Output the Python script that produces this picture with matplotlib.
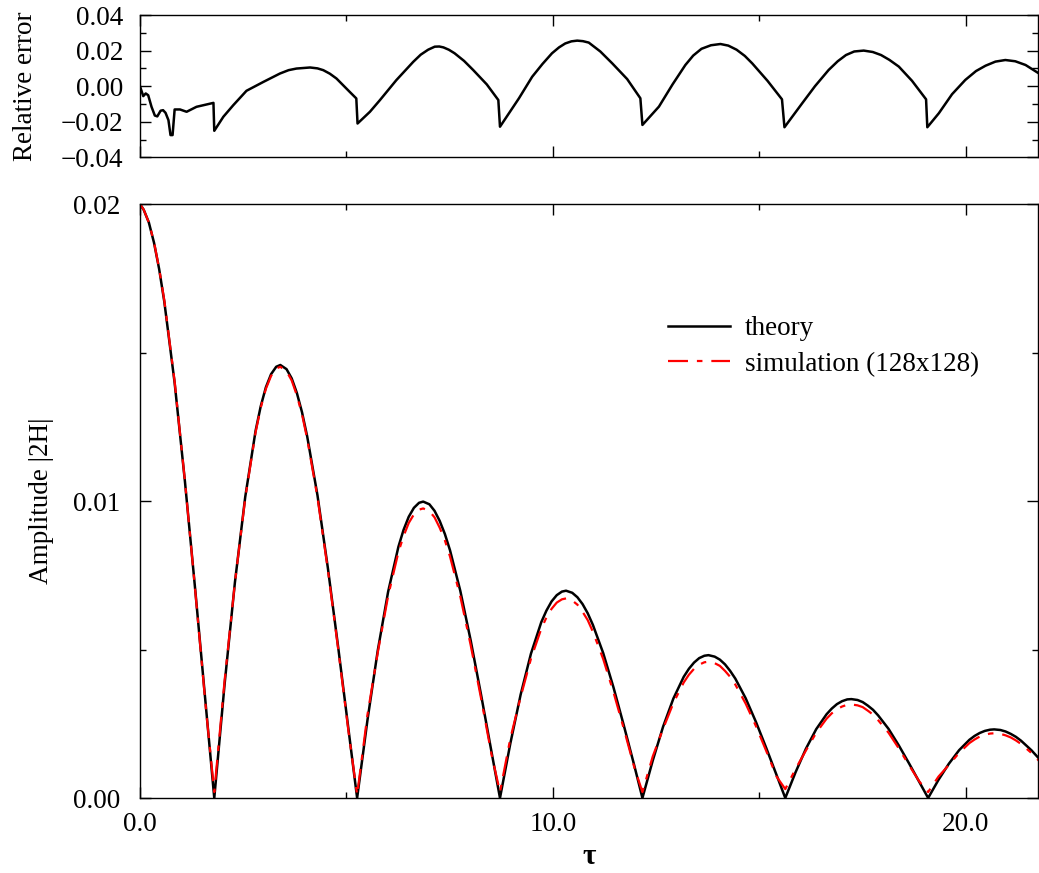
import matplotlib

matplotlib.use("Agg")
import matplotlib.pyplot as plt
from matplotlib.ticker import FixedLocator, FormatStrFormatter, FuncFormatter, MultipleLocator

# Amplitude |2H| against tau: analytic curve and the 128x128 run.
tau = [
    0.00, 0.09, 0.215, 0.34, 0.465, 0.59, 0.84, 1.09, 1.34, 1.59, 1.80,
    2.05, 2.30, 2.55, 2.80, 2.925, 3.05, 3.175, 3.30, 3.40, 3.55, 3.675, 3.80, 3.925, 4.05, 4.30, 4.55, 4.80, 5.05, 5.26,
    5.51, 5.76, 6.01, 6.26, 6.385, 6.51, 6.635, 6.76, 6.86, 7.01, 7.135, 7.26, 7.385, 7.51, 7.76, 8.01, 8.26, 8.51, 8.72,
    8.97, 9.22, 9.47, 9.72, 9.845, 9.97, 10.095, 10.22, 10.32, 10.47, 10.595, 10.72, 10.845, 10.97, 11.22, 11.47, 11.72, 11.97, 12.17,
    12.42, 12.67, 12.92, 13.17, 13.295, 13.42, 13.545, 13.67, 13.77, 13.92, 14.045, 14.17, 14.295, 14.42, 14.67, 14.92, 15.17, 15.42, 15.63,
    15.88, 16.13, 16.38, 16.63, 16.755, 16.88, 17.005, 17.13, 17.23, 17.38, 17.505, 17.63, 17.755, 17.88, 18.13, 18.38, 18.63, 18.88, 19.09,
    19.34, 19.59, 19.84, 20.09, 20.215, 20.34, 20.465, 20.59, 20.69, 20.84, 20.965, 21.09, 21.215, 21.34, 21.59, 21.84,
]
theory = [
    0.02000, 0.01981, 0.01938, 0.01870, 0.01781, 0.01671, 0.01398, 0.01065, 0.00699, 0.00319, 0.0,
    0.00383, 0.00726, 0.01014, 0.01236, 0.01319, 0.01383, 0.01427, 0.01452, 0.01458, 0.01444, 0.01413, 0.01364, 0.01299, 0.01218, 0.01019, 0.00776, 0.00509, 0.00232, 0.0,
    0.00262, 0.00497, 0.00694, 0.00846, 0.00903, 0.00947, 0.00977, 0.00994, 0.00998, 0.00989, 0.00967, 0.00933, 0.00889, 0.00834, 0.00697, 0.00531, 0.00349, 0.00159, 0.0,
    0.00183, 0.00348, 0.00486, 0.00592, 0.00631, 0.00662, 0.00683, 0.00695, 0.00698, 0.00691, 0.00676, 0.00653, 0.00622, 0.00583, 0.00488, 0.00372, 0.00244, 0.00111, 0.0,
    0.00126, 0.00240, 0.00335, 0.00408, 0.00435, 0.00456, 0.00471, 0.00479, 0.00481, 0.00476, 0.00466, 0.00450, 0.00428, 0.00402, 0.00336, 0.00256, 0.00168, 0.00077, 0.0,
    0.00087, 0.00166, 0.00232, 0.00282, 0.00301, 0.00316, 0.00326, 0.00332, 0.00333, 0.00330, 0.00323, 0.00311, 0.00297, 0.00278, 0.00233, 0.00177, 0.00116, 0.00053, 0.0,
    0.00061, 0.00115, 0.00161, 0.00196, 0.00209, 0.00219, 0.00226, 0.00230, 0.00231, 0.00229, 0.00224, 0.00216, 0.00206, 0.00193, 0.00161, 0.00123,
]
simulation = [
    0.02000, 0.01981, 0.01938, 0.01872, 0.01782, 0.01675, 0.01402, 0.01066, 0.00697, 0.00312, 0.00020,
    0.00395, 0.00725, 0.01010, 0.01231, 0.01314, 0.01378, 0.01421, 0.01446, 0.01452, 0.01437, 0.01406, 0.01356, 0.01292, 0.01210, 0.01012, 0.00770, 0.00503, 0.00225, 0.00010,
    0.00280, 0.00490, 0.00680, 0.00828, 0.00882, 0.00926, 0.00955, 0.00971, 0.00975, 0.00966, 0.00945, 0.00910, 0.00868, 0.00813, 0.00678, 0.00515, 0.00337, 0.00150, 0.00020,
    0.00200, 0.00340, 0.00469, 0.00570, 0.00608, 0.00637, 0.00658, 0.00669, 0.00672, 0.00665, 0.00651, 0.00627, 0.00599, 0.00560, 0.00468, 0.00356, 0.00233, 0.00105, 0.00020,
    0.00140, 0.00233, 0.00320, 0.00389, 0.00415, 0.00435, 0.00449, 0.00457, 0.00459, 0.00454, 0.00445, 0.00428, 0.00408, 0.00382, 0.00318, 0.00242, 0.00158, 0.00072, 0.00030,
    0.00098, 0.00160, 0.00220, 0.00267, 0.00285, 0.00299, 0.00308, 0.00314, 0.00315, 0.00312, 0.00306, 0.00294, 0.00281, 0.00262, 0.00220, 0.00167, 0.00110, 0.00055, 0.00020,
    0.00072, 0.00111, 0.00152, 0.00185, 0.00197, 0.00207, 0.00213, 0.00217, 0.00218, 0.00216, 0.00211, 0.00204, 0.00194, 0.00182, 0.00152, 0.00116,
]

# Relative error between the two, upper panel.
tau_err = [
    0.00, 0.08, 0.14, 0.20, 0.28, 0.36, 0.42, 0.50, 0.56, 0.62,
    0.69, 0.74, 0.79, 0.84, 0.97, 1.13, 1.37, 1.78, 1.80,
    2.02, 2.26, 2.58, 2.99, 3.39, 3.60, 3.79, 4.12, 4.30, 4.44, 4.60, 4.76, 5.08, 5.24,
    5.27, 5.57, 5.81, 6.21, 6.62, 6.80, 6.98, 7.14, 7.25, 7.35, 7.48, 7.62, 7.85, 8.07, 8.40, 8.68,
    8.72, 9.18, 9.50, 9.75, 9.98, 10.15, 10.30, 10.45, 10.59, 10.73, 10.87, 11.15, 11.44, 11.80, 12.12,
    12.17, 12.57, 12.90, 13.21, 13.40, 13.60, 13.83, 14.06, 14.25, 14.45, 14.65, 14.83, 15.20, 15.55,
    15.61, 16.04, 16.35, 16.68, 16.90, 17.10, 17.30, 17.53, 17.75, 17.95, 18.15, 18.38, 18.70, 19.04,
    19.07, 19.35, 19.67, 19.99, 20.25, 20.48, 20.72, 20.96, 21.20, 21.45, 21.77,
]
rel_err = [
    0.0000, -0.0056, -0.0041, -0.0051, -0.0116, -0.0165, -0.0170, -0.0138, -0.0135, -0.0150,
    -0.0191, -0.0275, -0.0275, -0.0131, -0.0131, -0.0144, -0.0116, -0.0094, -0.0251,
    -0.0172, -0.0107, -0.0026, 0.0024, 0.0071, 0.0090, 0.0099, 0.0105, 0.0100, 0.0090, 0.0070, 0.0043, -0.0032, -0.0069,
    -0.0210, -0.0144, -0.0079, 0.0034, 0.0137, 0.0177, 0.0205, 0.0222, 0.0223, 0.0218, 0.0205, 0.0185, 0.0142, 0.0091, 0.0010, -0.0078,
    -0.0228, -0.0068, 0.0053, 0.0125, 0.0185, 0.0218, 0.0240, 0.0252, 0.0256, 0.0253, 0.0245, 0.0195, 0.0128, 0.0040, -0.0068,
    -0.0218, -0.0115, 0.0010, 0.0119, 0.0172, 0.0210, 0.0230, 0.0237, 0.0228, 0.0205, 0.0170, 0.0128, 0.0030, -0.0074,
    -0.0231, -0.0096, 0.0000, 0.0091, 0.0140, 0.0175, 0.0195, 0.0200, 0.0192, 0.0175, 0.0148, 0.0110, 0.0030, -0.0074,
    -0.0231, -0.0152, -0.0045, 0.0035, 0.0085, 0.0115, 0.0138, 0.0147, 0.0140, 0.0119, 0.0072,
]

TAU_MAX = 21.75
FS = 19.5

plt.rcParams["font.family"] = ["Liberation Serif", "DejaVu Serif"]
plt.rcParams["font.size"] = FS
plt.rcParams["axes.linewidth"] = 1.0
plt.rcParams["lines.solid_joinstyle"] = "round"
plt.rcParams["lines.dash_joinstyle"] = "round"


def style_ticks(ax, ypad):
    ax.tick_params(which="both", direction="in", top=True, right=True, width=1.0)
    ax.tick_params(which="major", length=8)
    ax.tick_params(which="minor", length=4)
    ax.tick_params(axis="y", pad=ypad)
    ax.tick_params(axis="x", pad=10)
    ax.xaxis.set_major_locator(MultipleLocator(10))
    ax.xaxis.set_minor_locator(MultipleLocator(5))


def minus_fmt(value, _pos):
    return f"{value:.2f}".replace("-", "\u2212")


fig = plt.figure(figsize=(10.39, 8.73), dpi=100)
ax_err = fig.add_axes([0.1347, 0.8198, 0.8643, 0.1630])
ax_amp = fig.add_axes([0.1347, 0.0859, 0.8643, 0.6804])

ax_err.plot(tau_err, rel_err, color="black", lw=1.8)
ax_err.set_xlim(0, TAU_MAX)
ax_err.set_ylim(-0.04, 0.04)
style_ticks(ax_err, ypad=12)
ax_err.yaxis.set_major_locator(FixedLocator([-0.04, -0.02, 0.0, 0.02, 0.04]))
ax_err.yaxis.set_minor_locator(MultipleLocator(0.01))
ax_err.yaxis.set_major_formatter(FuncFormatter(minus_fmt))
ax_err.set_xticklabels([])
ax_err.set_ylabel("Relative error")
ax_err.yaxis.set_label_coords(-0.114, 0.5)

ax_amp.plot(tau, theory, color="black", lw=1.8, label="theory")
ax_amp.plot(tau, simulation, color="red", lw=1.6, dashes=(9, 4, 2.5, 4),
            label="simulation (128x128)")
ax_amp.set_xlim(0, TAU_MAX)
ax_amp.set_ylim(0, 0.02)
style_ticks(ax_amp, ypad=14)
ax_amp.yaxis.set_major_locator(MultipleLocator(0.01))
ax_amp.yaxis.set_minor_locator(MultipleLocator(0.005))
ax_amp.yaxis.set_major_formatter(FormatStrFormatter("%.2f"))
ax_amp.xaxis.set_major_formatter(FormatStrFormatter("%.1f"))
ax_amp.set_ylabel("Amplitude |2H|")
ax_amp.yaxis.set_label_coords(-0.096, 0.5)
ax_amp.set_xlabel("τ", fontsize=21, fontweight="bold")
ax_amp.xaxis.set_label_coords(0.5, -0.076)

ax_amp.legend(loc="upper left", bbox_to_anchor=(668 / 1039, (873 - 316) / 873),
              bbox_transform=fig.transFigure, frameon=False, fontsize=FS,
              handlelength=2.3, handletextpad=0.55, labelspacing=0.4,
              borderpad=0, borderaxespad=0)

fig.savefig("out.png", dpi=100)
